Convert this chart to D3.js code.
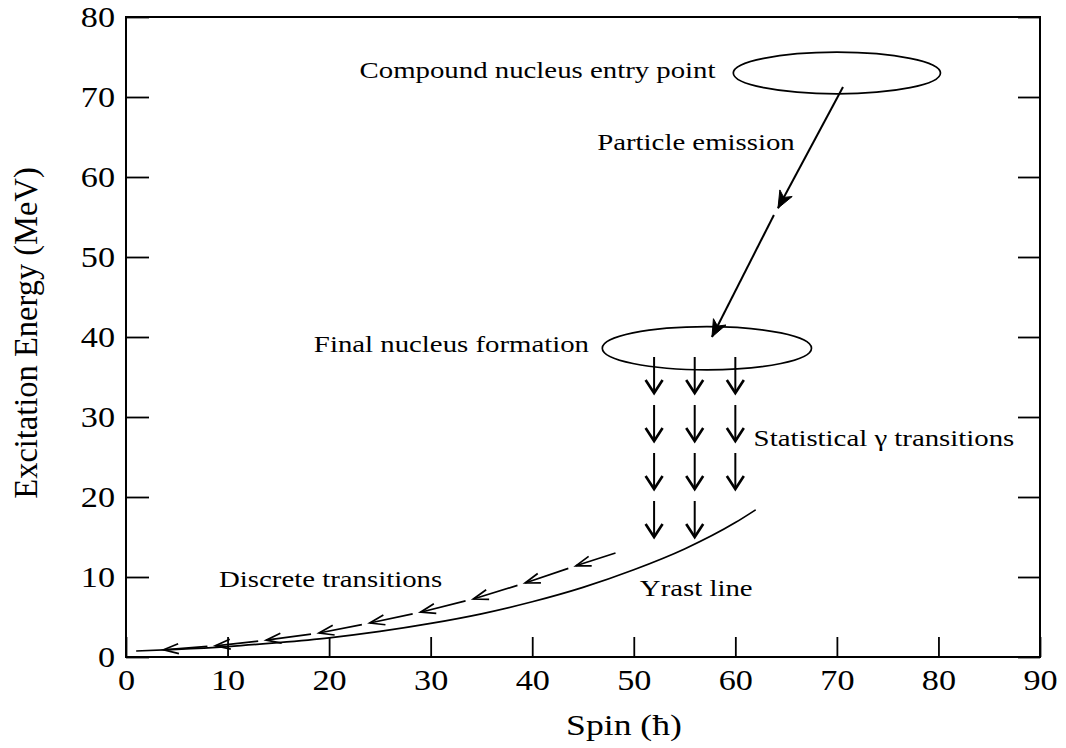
<!DOCTYPE html>
<html>
<head>
<meta charset="utf-8">
<script src="https://cdn.jsdelivr.net/npm/d3@7"></script>
<style>
  body { margin: 0; background: #fff; }
  svg text { font-family: "Liberation Serif", "Times New Roman", serif; fill: #000; }
</style>
</head>
<body>
<svg id="chart" width="1066" height="748"></svg>
<script>
// Axis ticks
const spinTicks = [0, 10, 20, 30, 40, 50, 60, 70, 80, 90];
const energyTicks = [0, 10, 20, 30, 40, 50, 60, 70, 80];

// Yrast line (spin in hbar, excitation energy in MeV)
const yrastSpin = [1, 5, 10, 15, 20, 25, 30, 35, 40, 45, 50, 55, 60, 62];
const yrastEnergy = [0.75, 0.95, 1.3, 1.8, 2.4, 3.2, 4.2, 5.4, 6.9, 8.7, 10.9, 13.5, 16.8, 18.4];

// Discrete gamma cascade near the yrast line, from the top down
const discreteSpin = [48.2, 44.3, 39.3, 34.2, 29.0, 24.0, 19.0, 13.8, 8.8, 3.7];
const discreteEnergy = [13.0, 11.4, 9.25, 7.25, 5.6, 4.25, 3.0, 2.1, 1.4, 0.9];

// Statistical gamma steps: columns (spin) and step start / end energies
const statColumnSpin = [52, 56, 60];
const statStepsPerColumn = [4, 4, 3];
const statStepTop = [37.5, 31.5, 25.5, 19.5];
const statStepBottom = [33, 27, 21, 15];

// Entry-state regions drawn as ellipses
const regionSpin = [70, 57.2];
const regionEnergy = [73, 38.6];
const regionSpinRadius = [10.2, 10.3];
const regionEnergyRadius = [2.6, 2.7];

// Particle emission path, drawn as two arrows (start, end pairs)
const emissionSpin = [70.6, 64.2, 63.8, 57.7];
const emissionEnergy = [71.25, 56.1, 55.25, 40.0];

// Annotations (left edge spin, baseline energy)
const labelText = ["Compound nucleus entry point", "Particle emission", "Final nucleus formation",
                   "Statistical \u03b3 transitions", "Discrete transitions", "Yrast line"];
const labelSpin = [23.0, 46.4, 18.5, 61.8, 9.16, 50.6];
const labelEnergy = [72.4, 63.4, 38.1, 26.4, 8.75, 7.6];

const svg = d3.select("#chart");
const plotLeft = 126, plotRight = 1040, plotTop = 17, plotBottom = 657;
const x = d3.scaleLinear().domain([0, 90]).range([plotLeft, plotRight]);
const y = d3.scaleLinear().domain([0, 80]).range([plotBottom, plotTop]);
const STRETCH = 1.2;

// Axes with inward ticks
const gx = svg.append("g").attr("transform", `translate(0,${plotBottom})`)
  .call(d3.axisBottom(x).tickValues(spinTicks).tickSizeInner(-20).tickSizeOuter(0).tickPadding(13));
const gy = svg.append("g").attr("transform", `translate(${plotLeft},0)`)
  .call(d3.axisLeft(y).tickValues(energyTicks).tickSizeInner(-23).tickSizeOuter(0).tickPadding(11));
const gr = svg.append("g").attr("transform", `translate(${plotRight},0)`)
  .call(d3.axisRight(y).tickValues(energyTicks).tickSizeInner(-22).tickSizeOuter(0).tickFormat(""));
[gx, gy, gr].forEach(g => {
  g.select(".domain").remove();
  g.selectAll(".tick line").attr("stroke", "#000").attr("stroke-width", 1.8);
  g.selectAll(".tick text").attr("font-size", 28.5).attr("fill", "#000").classed("stretch", true)
    .style("font-family", '"Liberation Serif", "Times New Roman", serif');
});

svg.append("rect").attr("x", plotLeft).attr("y", plotTop)
  .attr("width", plotRight - plotLeft).attr("height", plotBottom - plotTop)
  .attr("fill", "none").attr("stroke", "#000").attr("stroke-width", 2);

// Axis titles
svg.append("text").attr("class", "stretch wide").attr("x", 624).attr("y", 735)
  .attr("text-anchor", "middle").attr("font-size", 28.5).text("Spin (\u0127)");
svg.append("text").attr("transform", "translate(37,333) scale(1.05,1) rotate(-90)")
  .attr("text-anchor", "middle").attr("font-size", 32.5).text("Excitation Energy (MeV)");

// Arrowhead helpers
function headPoints(x1, y1, x2, y2, len, half) {
  const dx = x2 - x1, dy = y2 - y1, L = Math.hypot(dx, dy);
  const ux = dx / L, uy = dy / L, nx = -uy, ny = ux;
  const bx = x2 - ux * len, by = y2 - uy * len;
  return { a: [bx + nx * half, by + ny * half], t: [x2, y2], b: [bx - nx * half, by - ny * half],
           m: [x2 - ux * len * 0.72, y2 - uy * len * 0.72] };
}
function openHead(x1, y1, x2, y2, len, half) {
  const p = headPoints(x1, y1, x2, y2, len, half);
  return `M${p.a}L${p.t}L${p.b}`;
}
function barbHead(x1, y1, x2, y2, len, half) {
  const p = headPoints(x1, y1, x2, y2, len, half);
  return `M${p.a}L${p.t}L${p.b}L${p.m}Z`;
}

// Yrast line
const yrast = yrastSpin.map((s, i) => [s, yrastEnergy[i]]);
svg.append("path").datum(yrast)
  .attr("d", d3.line().x(d => x(d[0])).y(d => y(d[1])).curve(d3.curveMonotoneX))
  .attr("fill", "none").attr("stroke", "#000").attr("stroke-width", 1.7);

// Discrete cascade: dashes each ending in an open arrowhead
const gap = 8;
const cascade = svg.append("g").attr("stroke", "#000").attr("fill", "none").attr("stroke-width", 1.7);
for (let i = 0; i < discreteSpin.length - 1; i++) {
  let x1 = x(discreteSpin[i]), y1 = y(discreteEnergy[i]);
  const x2 = x(discreteSpin[i + 1]), y2 = y(discreteEnergy[i + 1]);
  if (i > 0) {
    const L = Math.hypot(x2 - x1, y2 - y1);
    x1 += (x2 - x1) / L * gap; y1 += (y2 - y1) / L * gap;
  }
  cascade.append("path").attr("d", `M${x1},${y1}L${x2},${y2}`);
  cascade.append("path").attr("d", openHead(x1, y1, x2, y2, 15, 5));
}

// Entry regions
svg.selectAll("ellipse.region").data(regionSpin).enter().append("ellipse")
  .attr("class", "region")
  .attr("cx", d => x(d))
  .attr("cy", (d, i) => y(regionEnergy[i]))
  .attr("rx", (d, i) => x(regionSpinRadius[i]) - x(0))
  .attr("ry", (d, i) => y(0) - y(regionEnergyRadius[i]))
  .attr("fill", "none").attr("stroke", "#000").attr("stroke-width", 1.7);

// Particle emission arrows
for (let i = 0; i < emissionSpin.length; i += 2) {
  const x1 = x(emissionSpin[i]), y1 = y(emissionEnergy[i]);
  const x2 = x(emissionSpin[i + 1]), y2 = y(emissionEnergy[i + 1]);
  svg.append("path").attr("d", `M${x1},${y1}L${x2},${y2}`).attr("stroke", "#000").attr("stroke-width", 2);
  svg.append("path").attr("d", barbHead(x1, y1, x2, y2, 17, 7)).attr("fill", "#000").attr("stroke", "#000")
    .attr("stroke-width", 1).attr("stroke-linejoin", "miter");
}

// Statistical gamma steps
const stat = svg.append("g").attr("stroke", "#000").attr("fill", "none")
  .attr("stroke-width", 2.6).attr("stroke-linejoin", "miter");
statColumnSpin.forEach((s, c) => {
  for (let k = 0; k < statStepsPerColumn[c]; k++) {
    const xx = x(s), y1 = y(statStepTop[k]), y2 = y(statStepBottom[k]);
    stat.append("path").attr("d", `M${xx},${y1}L${xx},${y2}`).attr("stroke-width", 2);
    stat.append("path").attr("d", openHead(xx, y1, xx, y2, 13, 8.5));
  }
});

// Annotations
svg.selectAll("text.note").data(labelText).enter().append("text")
  .attr("class", "note stretch")
  .attr("x", (d, i) => x(labelSpin[i]))
  .attr("y", (d, i) => y(labelEnergy[i]))
  .attr("font-size", 24)
  .text(d => d);

// Widen glyphs horizontally to the chart's typeface proportions
svg.selectAll("text.stretch").each(function () {
  const w = this.getComputedTextLength();
  const k = this.classList.contains("wide") ? 1.25 : STRETCH;
  d3.select(this).attr("textLength", w * k).attr("lengthAdjust", "spacingAndGlyphs");
});
</script>
</body>
</html>
